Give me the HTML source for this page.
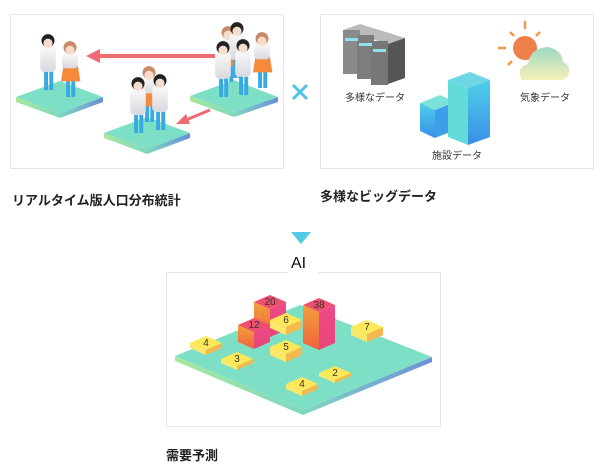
<!DOCTYPE html>
<html><head><meta charset="utf-8"><style>
body{margin:0;background:#fff;width:600px;height:470px;overflow:hidden;font-family:"Liberation Sans","Noto Sans CJK JP",sans-serif;}
</style></head><body>
<svg id="s" width="600" height="470" xmlns="http://www.w3.org/2000/svg" font-family="'Liberation Sans','Noto Sans CJK JP',sans-serif">
<defs>
<linearGradient id="pf" x1="0" x2="1"><stop offset="0" stop-color="#a8e89a"/><stop offset="0.5" stop-color="#7fd8c0"/><stop offset="1" stop-color="#6b8fd8"/></linearGradient>
<linearGradient id="rdL" x1="0" y1="0" x2="0" y2="1"><stop offset="0" stop-color="#f2a03a"/><stop offset="1" stop-color="#f0633e"/></linearGradient>
<linearGradient id="rdR" x1="0" y1="0" x2="0" y2="1"><stop offset="0" stop-color="#ee4a88"/><stop offset="1" stop-color="#e8457a"/></linearGradient>
<linearGradient id="bl" x1="0" y1="0" x2="0" y2="1"><stop offset="0" stop-color="#4fd0e8"/><stop offset="1" stop-color="#3a8ee8"/></linearGradient>
<linearGradient id="cl" x1="0" y1="0" x2="0" y2="1"><stop offset="0" stop-color="#9fd9c4"/><stop offset="1" stop-color="#f6f0b8"/></linearGradient>
<linearGradient id="torso" x1="0" y1="0" x2="0" y2="1"><stop offset="0" stop-color="#fafafa"/><stop offset="1" stop-color="#d8d8e0"/></linearGradient>
</defs>
<rect x="10.5" y="14.5" width="273" height="154" fill="#fff" stroke="#e6e6e6"/>
<rect x="320.5" y="14.5" width="273" height="154" fill="#fff" stroke="#e6e6e6"/>
<rect x="166.5" y="272.5" width="274" height="154" fill="#fff" stroke="#e6e6e6"/>
<rect x="288" y="265" width="30" height="12" fill="#fff"/>
<g id="plats"></g>
<g id="ppl"></g>
<line x1="215" y1="56" x2="98" y2="56" stroke="#ef6b72" stroke-width="4"/>
<polygon points="86,56 100,49 100,63" fill="#ef6b72"/>
<line x1="210" y1="110" x2="186" y2="120" stroke="#ef6b72" stroke-width="3"/>
<polygon points="176,124 186,114 190,124" fill="#ef6b72"/>
<path d="M293 85 L307 99 M307 85 L293 99" stroke="#4cc4e4" stroke-width="3"/>
<g>
<polygon points="343,30 360,24 405,38 388,44" fill="#bbb"/>
<rect x="343" y="30" width="17" height="44" fill="#8a8a8a"/>
<rect x="357" y="35" width="17" height="44" fill="#7d7d7d"/>
<rect x="371" y="41" width="17" height="44" fill="#777"/>
<polygon points="388,44 405,38 405,78 388,84" fill="#555"/>
<rect x="345" y="38" width="13" height="3" fill="#8fe0e8"/><rect x="359" y="43" width="13" height="3" fill="#8fe0e8"/><rect x="373" y="49" width="13" height="3" fill="#8fe0e8"/>
</g>
<text x="345" y="101" font-size="10" fill="#333">多様なデータ</text>
<g stroke="#f19a4a" stroke-width="2.5">
<line x1="525" y1="21" x2="525" y2="29"/><line x1="510" y1="32" x2="514" y2="36"/><line x1="540" y1="32" x2="536" y2="36"/><line x1="498" y1="48" x2="506" y2="48"/><line x1="508" y1="65" x2="512" y2="61"/>
</g>
<circle cx="525" cy="48" r="12" fill="#f0804a"/>
<path d="M522 80 Q515 68 528 64 Q530 48 548 47 Q562 50 563 62 Q572 66 568 76 Q566 80 560 80 Z" fill="url(#cl)"/>
<text x="520" y="101" font-size="10" fill="#333">気象データ</text>
<polygon points="420,103 440,95 455,102 435,110" fill="#7de3d8"/>
<polygon points="420,103 435,110 435,138 420,131" fill="url(#bl)"/>
<polygon points="435,110 455,102 455,130 435,138" fill="#3d9fea"/>
<polygon points="448,80 470,72 490,80 468,88" fill="#6fd6e6"/>
<polygon points="448,80 468,88 468,145 448,137" fill="#63dbd8"/>
<polygon points="468,88 490,80 490,137 468,145" fill="url(#bl)"/>
<text x="432" y="159" font-size="10" fill="#333">施設データ</text>
<text x="12" y="205" font-size="13" font-weight="bold" fill="#222">リアルタイム版人口分布統計</text>
<text x="320" y="201" font-size="13" font-weight="bold" fill="#222">多様なビッグデータ</text>
<polygon points="291,232 311,232 301,244" fill="#4fcbe6"/>
<text x="291" y="268" font-size="16" fill="#111">AI</text>
<text x="166" y="460" font-size="13" font-weight="bold" fill="#222">需要予測</text>
<g id="bars"></g>
</svg>
<script>
var NS="http://www.w3.org/2000/svg";
function el(p,t,a){var e=document.createElementNS(NS,t);for(var k in a)e.setAttribute(k,a[k]);p.appendChild(e);return e;}
function plat(g,L,T,R,B,th){
 el(g,"polygon",{points:[L,B,R,[R[0],R[1]+th],[B[0],B[1]+th],[L[0],L[1]+th]].map(function(p){return p.join(",")}).join(" "),fill:"url(#pf)"});
 el(g,"polygon",{points:[L,T,R,B].map(function(p){return p.join(",")}).join(" "),fill:"#7de0c6"});
}
var pg=document.getElementById("plats");
plat(pg,[16,97],[60,81],[103,97],[60,113],5);
plat(pg,[104,133],[147,117],[190,133],[147,149],5);
plat(pg,[190,96],[234,80],[278,97],[234,112],5);
plat(pg,[175,356],[300,305],[432,357],[303,410],5);
function person(g,x,y,girl){
 var gg=el(g,"g",{transform:"translate("+x+","+y+") scale(1.3)"});
 el(gg,"rect",{x:-3,y:-14,width:3,height:14,fill:"#39a9e4"});
 el(gg,"rect",{x:1,y:-14,width:3,height:14,fill:"#39a9e4"});
 if(girl){el(gg,"polygon",{points:"-5,-24 6,-24 8,-12 -7,-12",fill:"#f58a3c"});}
 el(gg,"rect",{x:-6,y:-34,width:12,height:girl?12:20,rx:3,fill:"url(#torso)"});
 el(gg,"circle",{cx:0,cy:-38,r:5,fill:girl?"#c98a6a":"#222"});
 el(gg,"circle",{cx:0,cy:-36,r:3.5,fill:"#f5dccb"});
}
var pp=document.getElementById("ppl");
[[48,90,0],[70,97,1],[228,82,1],[237,78,0],[262,88,1],[223,97,0],[243,95,0],[149,122,1],[138,133,0],[160,130,0]].forEach(function(a){person(pp,a[0],a[1],a[2]);});
var bg=document.getElementById("bars");
function box(cx,cy,H,red,label){
 var w=16,h=7;
 el(bg,"polygon",{points:(cx-w)+","+cy+" "+cx+","+(cy+h)+" "+cx+","+(cy+h+H)+" "+(cx-w)+","+(cy+H),fill:red?"url(#rdL)":"#fbe86a"});
 el(bg,"polygon",{points:cx+","+(cy+h)+" "+(cx+w)+","+cy+" "+(cx+w)+","+(cy+H)+" "+cx+","+(cy+h+H),fill:red?"url(#rdR)":"#f5b84e"});
 el(bg,"polygon",{points:(cx-w)+","+cy+" "+cx+","+(cy-h)+" "+(cx+w)+","+cy+" "+cx+","+(cy+h),fill:red?"#ee4f6c":"#fde957"});
 var t=el(bg,"text",{x:cx,y:cy+3,"font-size":"10","text-anchor":"middle",fill:"#333"});t.textContent=label;
}
box(206,343,5,0,"4");
box(237,359,4,0,"3");
box(270,302,28,1,"20");
box(286,320,8,0,"6");
box(254,325,17,1,"12");
box(286,347,8,0,"5");
box(319,305,38,1,"38");
box(367,327,8,0,"7");
box(335,373,3,0,"2");
box(302,384,5,0,"4");
</script>
</body></html>
